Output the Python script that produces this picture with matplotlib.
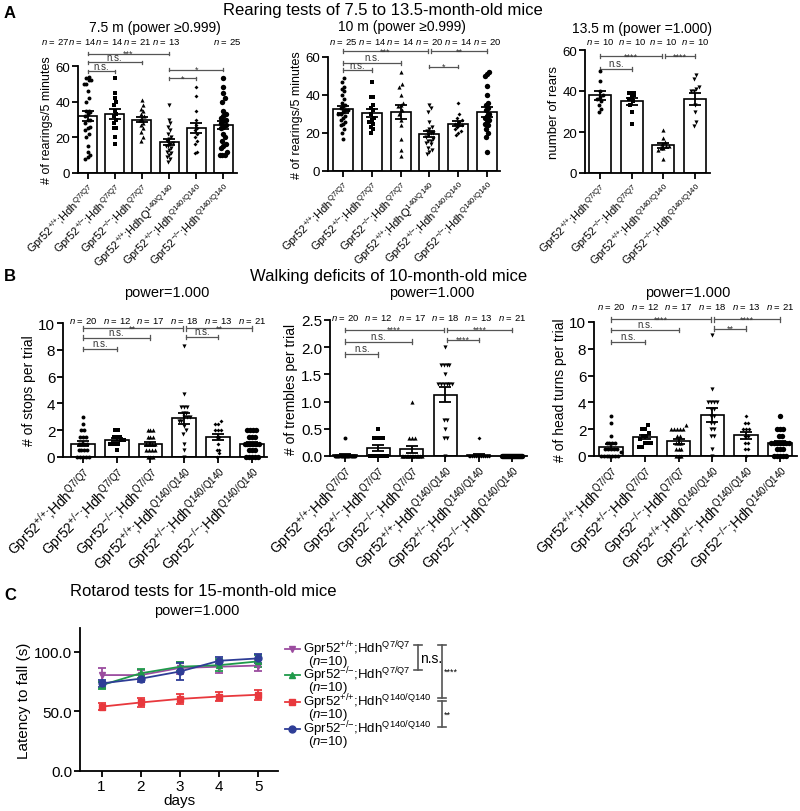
import numpy as np
import matplotlib
matplotlib.use("Agg")
import matplotlib.pyplot as plt

plt.rcParams['font.family'] = ['Liberation Sans', 'DejaVu Sans']
plt.rcParams['mathtext.fontset'] = 'custom'
plt.rcParams['mathtext.rm'] = 'Liberation Sans'
plt.rcParams['mathtext.it'] = 'Liberation Sans:italic'
plt.rcParams['mathtext.bf'] = 'Liberation Sans:bold'

# ---------------- data ----------------
# Panel A, 7.5 months
a1_n = [27, 14, 14, 21, 13, 25]
a1_mean = [32, 33, 30, 17.5, 25.5, 27]
a1_sem = [2.6, 2.8, 1.6, 1.6, 2.8, 2.2]
a1_pts = [
    [54, 53, 52, 52, 50, 50, 46, 42, 40, 35, 35, 34, 33, 32, 30, 30, 28, 26, 25, 24, 22, 20, 15, 12, 10, 9, 8],
    [53, 45, 42, 40, 38, 35, 33, 32, 30, 28, 25, 25, 20, 16],
    [41, 38, 36, 35, 33, 32, 30, 30, 28, 27, 25, 23, 20, 18],
    [38, 30, 28, 26, 24, 22, 20, 19, 18, 17, 16, 15, 15, 14, 13, 12, 11, 10, 9, 8, 6],
    [48, 43, 35, 30, 27, 25, 24, 22, 20, 18, 16, 12, 11],
    [53, 48, 45, 42, 40, 35, 33, 32, 31, 30, 29, 28, 27, 26, 25, 22, 20, 18, 16, 15, 14, 12, 10, 10, 10],
]
# Panel A, 10 months
a2_n = [25, 14, 14, 20, 14, 20]
a2_mean = [32.5, 30.5, 31, 19.5, 25, 31]
a2_sem = [1.8, 2.0, 3.6, 1.6, 1.3, 2.6]
a2_pts = [
    [49, 47, 44, 43, 42, 40, 38, 36, 35, 34, 33, 32, 32, 31, 30, 30, 29, 28, 27, 26, 25, 24, 22, 20, 17],
    [47, 39, 39, 35, 33, 32, 30, 28, 27, 26, 25, 23, 22, 20],
    [52, 46, 44, 40, 36, 35, 34, 32, 30, 27, 24, 17, 11, 8],
    [35, 33, 31, 26, 23, 22, 21, 20, 20, 19, 18, 17, 16, 16, 15, 14, 12, 11, 10, 9],
    [36, 30, 28, 27, 26, 25, 25, 24, 24, 23, 22, 21, 20, 19],
    [52, 51, 50, 45, 40, 36, 35, 33, 32, 30, 29, 28, 27, 26, 25, 24, 22, 20, 18, 10],
]
# Panel A, 13.5 months
a3_n = [10, 10, 10, 10]
a3_mean = [38, 35, 13.5, 36]
a3_sem = [2.2, 1.6, 1.2, 2.8]
a3_pts = [
    [50, 45, 40, 38, 37, 36, 35, 33, 31, 30],
    [39, 39, 39, 38, 37, 36, 35, 33, 30, 24],
    [21, 17, 15, 14, 13, 13, 12, 12, 11, 7],
    [48, 46, 42, 41, 40, 40, 33, 30, 25, 23],
]
# Panel B
b_n = [20, 12, 17, 18, 13, 21]
b1_mean = [1.0, 1.3, 1.0, 2.9, 1.5, 0.95]
b1_sem = [0.2, 0.13, 0.15, 0.42, 0.25, 0.15]
b1_pts = [
    [3, 2.5, 2, 2, 1.5, 1.5, 1.5, 1, 1, 1, 1, 0.5, 0.5, 0.5, 0.5, 0, 0, 0, 0, 0],
    [2, 2, 1.5, 1.5, 1.5, 1.3, 1.3, 1, 1, 1, 1, 0.5],
    [2, 2, 2, 1.5, 1.5, 1.5, 1, 1, 1, 1, 0.5, 0.5, 0.5, 0.5, 0, 0, 0],
    [8.3, 4.7, 3.7, 3.7, 3.7, 3.3, 3.3, 3, 3, 3, 2.7, 2.7, 2.3, 2, 1.7, 1, 0.5, 0],
    [2.7, 2.5, 2.5, 2, 2, 2, 1.5, 1.5, 1, 0.5, 0.5, 0.3, 0],
    [2, 2, 2, 2, 1.5, 1.5, 1.5, 1, 1, 1, 1, 1, 1, 0.5, 0.5, 0.5, 0, 0, 0, 0, 0],
]
b2_mean = [0.02, 0.15, 0.12, 1.13, 0.02, 0.0]
b2_sem = [0.02, 0.05, 0.06, 0.13, 0.02, 0.0]
b2_pts = [
    [0.33] + [0] * 19,
    [0.5, 0.33, 0.33, 0.33, 0.33] + [0] * 7,
    [1.0, 0.33, 0.33, 0.33] + [0] * 13,
    [2.0, 1.67, 1.67, 1.67, 1.67, 1.5, 1.33, 1.33, 1.33, 1.33, 1.33, 1.33, 0.67, 0.67, 0.5, 0.33, 0.33, 0],
    [0.33] + [0] * 12,
    [0] * 21,
]
b3_mean = [0.7, 1.4, 1.1, 3.05, 1.55, 1.0]
b3_sem = [0.2, 0.15, 0.2, 0.5, 0.25, 0.15]
b3_pts = [
    [3, 2.5, 1.5, 1, 1, 1, 1, 0.5, 0.5, 0.5, 0.5, 0.5, 0.3, 0, 0, 0, 0, 0, 0, 0],
    [2.3, 2, 2, 1.7, 1.5, 1.5, 1.3, 1, 1, 1, 0.7, 0.7],
    [2.3, 2, 2, 2, 2, 2, 1.5, 1.5, 1, 1, 1, 0.5, 0.5, 0.5, 0, 0, 0],
    [9, 5, 4, 4, 4, 4, 3.5, 3.5, 3, 3, 2.5, 2.5, 2, 2, 1.5, 1.5, 0.5, 0],
    [3, 2.5, 2.5, 2, 2, 2, 1.5, 1.5, 1, 1, 0.5, 0.5, 0],
    [3, 2, 2, 2, 1.5, 1.5, 1, 1, 1, 1, 1, 1, 1, 0.5, 0.5, 0.5, 0, 0, 0, 0, 0],
]
# Panel C, rotarod
days = [1, 2, 3, 4, 5]
rot_wt_q7 = [80.5, 80.5, 86.5, 87.5, 88.5]
rot_wt_q7_err = [6, 4, 5, 5, 5]
rot_ko_q7 = [72, 82, 87.5, 88.8, 92]
rot_ko_q7_err = [3, 4, 4, 5, 5]
rot_wt_q140 = [54, 57.5, 60.5, 62.5, 64]
rot_wt_q140_err = [3, 4, 4, 3.5, 4]
rot_ko_q140 = [73.5, 77.5, 83.5, 92.5, 94.5]
rot_ko_q140_err = [3, 3, 7.5, 3, 4]


def geno(gpr, hdh, pre="Hdh"):
    g = gpr.replace("+", "{+}").replace("-", "{-}")
    return r"Gpr52$^{\mathrm{" + g + r"}}$;" + pre + r"$^{\mathrm{" + hdh + r"}}$"


six_labels = [geno("+/+", "Q7/Q7"), geno("+/-", "Q7/Q7"), geno("-/-", "Q7/Q7"),
              geno("+/+", "Q140/Q140"), geno("+/-", "Q140/Q140"), geno("-/-", "Q140/Q140")]
a_labels = six_labels[:3] + [geno("+/+", "140/Q140", pre="HdhQ")] + six_labels[4:]
a3_labels = [geno("+/+", "Q7/Q7"), geno("-/-", "Q7/Q7"),
             geno("+/+", "Q140/Q140"), geno("-/-", "Q140/Q140")]

markers6 = [('o', 8), ('s', 8), ('^', 9), ('v', 9), ('D', 4), ('o', 15)]
markers4 = [('o', 8), ('s', 8), ('^', 9), ('v', 9)]

W, H = 800, 812
fig = plt.figure(figsize=(W / 100, H / 100), dpi=100)


def px_axes(l, r, b, t):
    return fig.add_axes([l / W, 1 - b / H, (r - l) / W, (b - t) / H])


def ftext(x, y, s, **kw):
    kw.setdefault('ha', 'center')
    kw.setdefault('va', 'center')
    fig.text(x / W, 1 - y / H, s, **kw)


def swarm(vals, span, dx=0.085, half=0.3):
    vals = np.asarray(vals, float)
    order = np.argsort(vals)
    offs = np.zeros(len(vals))
    tol = span * 0.04
    i = 0
    while i < len(order):
        j = i
        while j + 1 < len(order) and vals[order[j + 1]] - vals[order[i]] <= tol:
            j += 1
        k = j - i + 1
        step = dx if (k - 1) * dx <= 2 * half else 2 * half / (k - 1)
        offs[order[i:j + 1]] = (np.arange(k) - (k - 1) / 2) * step
        i = j + 1
    return offs


def style(ax, fs):
    for s in ('top', 'right'):
        ax.spines[s].set_visible(False)
    for s in ('left', 'bottom'):
        ax.spines[s].set_linewidth(1.3)
    ax.tick_params(direction='out', width=1.3, length=4, labelsize=fs, pad=1.5)


def bracket(ax, x1, x2, y, text, tick):
    c = '#555555'
    ax.plot([x1, x2], [y, y], color=c, lw=0.9, clip_on=False)
    for xx in (x1, x2):
        ax.plot([xx, xx], [y - tick, y + tick], color=c, lw=0.9, clip_on=False)
    if text.startswith('*'):
        ax.text((x1 + x2) / 2, y + tick * 0.2, text, ha='center', va='center',
                fontsize=6.5, color='#333333')
    else:
        ax.text((x1 + x2) / 2, y + tick * 0.4, text, ha='center', va='bottom',
                fontsize=7, color='#333333')


def bar_panel(ax, means, sems, pts, marks, labels, ylim, yticks, ylabel,
              xlim, tick_fs, lab_fs, ylab_fs, yfmt=None):
    x = np.arange(len(means))
    ax.bar(x, means, width=0.7, color='white', edgecolor='black', linewidth=1.2, zorder=1)
    span = ylim[1] - ylim[0]
    for i, vals in enumerate(pts):
        m, s = marks[i]
        ax.scatter(i + swarm(vals, span), vals, marker=m, s=s, color='black',
                   linewidths=0, zorder=3, clip_on=False)
    ax.errorbar(x, means, yerr=sems, fmt='none', ecolor='black', elinewidth=1.3,
                capsize=4, capthick=1.3, zorder=4)
    ax.set_xlim(*xlim)
    ax.set_ylim(*ylim)
    ax.set_yticks(yticks)
    if yfmt:
        ax.set_yticklabels([yfmt % v for v in yticks])
    ax.set_xticks(x)
    ax.set_xticklabels(labels, rotation=45, ha='right', rotation_mode='anchor',
                       fontsize=lab_fs)
    ax.set_ylabel(ylabel, fontsize=ylab_fs, labelpad=2)
    style(ax, tick_fs)
    ax.tick_params(axis='x', labelsize=lab_fs)


def n_labels(ax, ns, y, xs=None):
    if xs is None:
        xs = range(len(ns))
    for xx, n in zip(xs, ns):
        ax.text(xx, y, r"$n$ = %d" % n, ha='center', va='center', fontsize=6.8, clip_on=False)


# ---------------- Panel A ----------------
ax = px_axes(78, 237, 174, 67)
bar_panel(ax, a1_mean, a1_sem, a1_pts, markers6, a_labels, (0, 60), [0, 20, 40, 60],
          "# of rearings/5 minutes", (-0.35, 5.5), 9.5, 8, 9)
n_labels(ax, a1_n, 74, xs=[-1.19, -0.19, 0.78, 1.81, 2.89, 5.15])
t = 1.0
bracket(ax, 0, 1, 57, "n.s.", t)
bracket(ax, 0, 2, 62, "n.s.", t)
bracket(ax, 0, 3, 67, "***", t)
bracket(ax, 3, 4, 53, "*", t)
bracket(ax, 3, 5, 58, "*", t)

ax = px_axes(328, 500, 172, 58)
bar_panel(ax, a2_mean, a2_sem, a2_pts, markers6, a_labels, (0, 60), [0, 20, 40, 60],
          "# of rearings/5 minutes", (-0.52, 5.45), 9.5, 8, 9)
n_labels(ax, a2_n, 68.4)
bracket(ax, 0, 1, 53, "n.s.", t)
bracket(ax, 0, 2, 57, "n.s.", t)
bracket(ax, 0, 2.95, 63, "***", t)
bracket(ax, 3.05, 5, 63, "**", t)
bracket(ax, 3, 4, 55, "*", t)

ax = px_axes(585, 710, 174, 51)
bar_panel(ax, a3_mean, a3_sem, a3_pts, markers4, a3_labels, (0, 60), [0, 20, 40, 60],
          "number of rears", (-0.47, 3.47), 9.5, 8, 9.5)
n_labels(ax, a3_n, 64.4)
bracket(ax, 0, 1, 50.7, "n.s.", t)
bracket(ax, 0, 1.95, 57, "****", t)
bracket(ax, 2.05, 3, 57, "****", t)

# ---------------- Panel B ----------------
ax = px_axes(63, 267, 458, 324)
bar_panel(ax, b1_mean, b1_sem, b1_pts, markers6, six_labels, (0, 10), [0, 2, 4, 6, 8, 10],
          "# of stops per trial", (-0.59, 5.45), 11, 10, 10)
n_labels(ax, b_n, 10.2)
t = 0.17
bracket(ax, 0, 2.95, 9.6, "**", t)
bracket(ax, 0, 2, 8.9, "n.s.", t)
bracket(ax, 0, 1, 8.05, "n.s.", t)
bracket(ax, 3.05, 5, 9.6, "**", t)
bracket(ax, 3.05, 4, 8.95, "n.s.", t)

ax = px_axes(330, 527, 457, 321)
bar_panel(ax, b2_mean, b2_sem, b2_pts, markers6, six_labels, (0, 2.5),
          [0, 0.5, 1.0, 1.5, 2.0, 2.5], "# of trembles per trial", (-0.45, 5.45),
          11, 10, 10, yfmt="%.1f")
n_labels(ax, b_n, 2.55)
t = 0.042
bracket(ax, 0, 2.95, 2.32, "****", t)
bracket(ax, 0, 2, 2.1, "n.s.", t)
bracket(ax, 0, 1, 1.87, "n.s.", t)
bracket(ax, 3.05, 5, 2.32, "****", t)
bracket(ax, 3.05, 4, 2.13, "****", t)

ax = px_axes(594, 797, 457, 323)
bar_panel(ax, b3_mean, b3_sem, b3_pts, markers6, six_labels, (0, 10), [0, 2, 4, 6, 8, 10],
          "# of head turns per trial", (-0.5, 5.5), 11, 10, 10)
n_labels(ax, b_n, 11.2)
t = 0.17
bracket(ax, 0, 2.95, 10.2, "****", t)
bracket(ax, 0, 2, 9.4, "n.s.", t)
bracket(ax, 0, 1, 8.5, "n.s.", t)
bracket(ax, 3.05, 5, 10.2, "****", t)
bracket(ax, 3.05, 4, 9.5, "**", t)

# ---------------- Panel C ----------------
ax = px_axes(80, 278, 772, 629)
series = [
    (rot_wt_q7, rot_wt_q7_err, '#9b4c9f', 'v', geno("+/+", "Q7/Q7")),
    (rot_ko_q7, rot_ko_q7_err, '#1f9a4a', '^', geno("-/-", "Q7/Q7")),
    (rot_wt_q140, rot_wt_q140_err, '#e8383d', 's', geno("+/+", "Q140/Q140")),
    (rot_ko_q140, rot_ko_q140_err, '#2e3d96', 'o', geno("-/-", "Q140/Q140")),
]
for vals, err, c, m, lab in series:
    ax.errorbar(days, vals, yerr=err, color=c, marker=m, ms=5, lw=1.3,
                elinewidth=1.3, capsize=3, capthick=1.3)
ax.set_xlim(0.45, 5.5)
ax.set_ylim(0, 120)
ax.set_xticks(days)
ax.set_yticks([0, 50, 100])
ax.set_yticklabels(["0.0", "50.0", "100.0"])
ax.set_xlabel("days", fontsize=11, labelpad=0)
ax.set_ylabel("Latency to fall (s)", fontsize=11, labelpad=2)
style(ax, 11)

# legend drawn by hand to put the marker on the first line
leg_y = [0.853, 0.671, 0.483, 0.294]
for (vals, err, c, m, lab), yy in zip(series, leg_y):
    ax.plot([1.035, 1.11], [yy, yy], color=c, lw=1.3, transform=ax.transAxes, clip_on=False)
    ax.plot([1.072], [yy], color=c, marker=m, ms=5, transform=ax.transAxes, clip_on=False)
    ax.text(1.126, yy + 0.005, lab, fontsize=9.5, ha='left', va='center', transform=ax.transAxes)
    ax.text(1.15, yy - 0.085, r"($n$=10)", fontsize=9.5, ha='left', va='center',
            transform=ax.transAxes)


def vbracket(ax, x, y1, y2, text, dx, fs, tx):
    c = '#555555'
    ax.plot([x, x], [y1, y2], color=c, lw=1.2, transform=ax.transAxes, clip_on=False)
    for yy in (y1, y2):
        ax.plot([x - dx, x + dx], [yy, yy], color=c, lw=1.2, transform=ax.transAxes,
                clip_on=False)
    ax.text(x + tx, (y1 + y2) / 2, text, fontsize=fs, ha='left', va='center',
            transform=ax.transAxes)


vbracket(ax, 1.707, 0.881, 0.706, "n.s.", 0.02, 10, 0.01)
vbracket(ax, 1.828, 0.881, 0.51, "****", 0.02, 6.5, 0.01)
vbracket(ax, 1.828, 0.49, 0.308, "**", 0.02, 6.5, 0.01)

# ---------------- titles ----------------
ftext(10, 13, "A", fontsize=12, fontweight='bold')
ftext(10, 277, "B", fontsize=12, fontweight='bold')
ftext(10, 596, "C", fontsize=12, fontweight='bold')
ftext(383, 11, "Rearing tests of 7.5 to 13.5-month-old mice", fontsize=12)
ftext(155, 28, "7.5 m (power \u22650.999)", fontsize=10)
ftext(402, 27, "10 m (power \u22650.999)", fontsize=10)
ftext(642, 29, "13.5 m (power =1.000)", fontsize=10)
ftext(389, 277, "Walking deficits of 10-month-old mice", fontsize=12)
ftext(167, 293, "power=1.000", fontsize=10.5)
ftext(432, 293, "power=1.000", fontsize=10.5)
ftext(688, 293, "power=1.000", fontsize=10.5)
ftext(203, 592, "Rotarod tests for 15-month-old mice", fontsize=12)
ftext(197, 611, "power=1.000", fontsize=10.5)

fig.savefig("out.png", dpi=100)
